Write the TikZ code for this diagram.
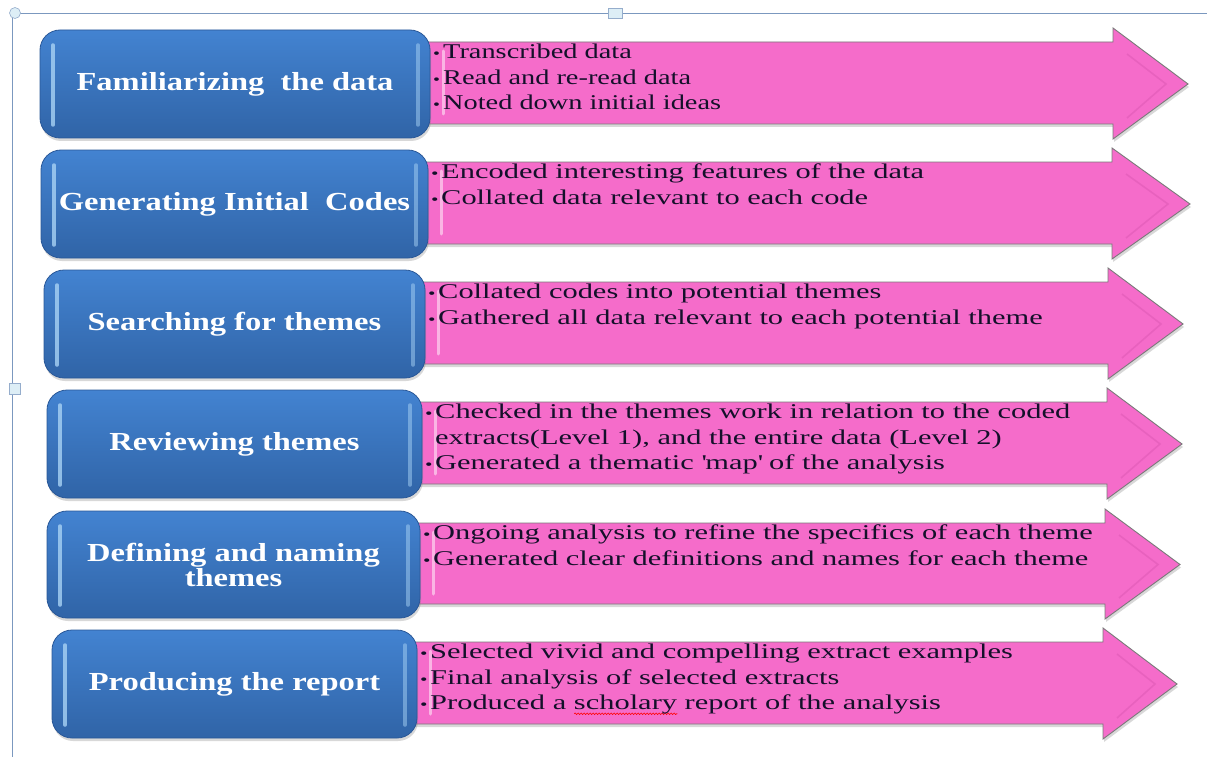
\documentclass[tikz,border=0pt]{standalone}
\usepackage{fontspec}
\setmainfont{Liberation Serif}[FakeStretch=1.45]
\newfontfamily\firstlistfont{Liberation Serif}[FakeStretch=1.35]
\newfontfamily\titlefont{Liberation Serif}[FakeStretch=1.25]
\usetikzlibrary{shadows,decorations.pathmorphing}

\definecolor{boxtop}{HTML}{4383D1}
\definecolor{boxbot}{HTML}{3064A7}
\definecolor{boxrim}{HTML}{2A5898}
\definecolor{gloss}{HTML}{A8D2F4}
\definecolor{pinkfill}{HTML}{F56CCA}
\definecolor{pinkdark}{HTML}{D651AE}
\definecolor{pinkedge}{HTML}{7A7A7A}
\definecolor{framecol}{HTML}{7B98BF}
\definecolor{handlefill}{HTML}{DDEEF6}
\definecolor{inktext}{HTML}{14102A}

\tikzset{
  stagebox/.style={draw=boxrim, line width=0.8pt, rounded corners=20pt,
    top color=boxtop, bottom color=boxbot, text=white, align=center,
    inner sep=0pt,
    font=\titlefont\bfseries\fontsize{26}{25}\selectfont,
    drop shadow={shadow xshift=1pt, shadow yshift=-3pt, opacity=0.3}},
  arrowshape/.style={draw=pinkedge, line width=0.9pt, fill=pinkfill,
    line join=miter,
    drop shadow={shadow xshift=1pt, shadow yshift=-3pt, opacity=0.3}},
  glossline/.style={gloss, line width=3.5pt, line cap=round, opacity=0.8},
  bevel/.style={white, line width=3pt, line cap=round, opacity=0.5},
  chevron/.style={pinkdark, line width=1.6pt, opacity=0.4},
  itemtext/.style={anchor=north west, inner sep=0pt, align=left,
    text=inktext, font=\fontsize{21}{25.5}\selectfont},
  framerule/.style={framecol, line width=1pt},
  handle/.style={draw=framecol!80, fill=handlefill, line width=0.6pt}
}

% bullet of a list line and the indent of a continued line
\newcommand\itembul{\makebox[10pt][l]{\scalebox{0.7}{\textbullet}}}
\newcommand\itemcont{\hspace*{10pt}}
% spell-check style wavy underline
\newlength\wavelen
\newcommand\redwave[1]{\settowidth\wavelen{#1}%
  \rlap{\tikz[baseline=0pt]\draw[red, line width=0.6pt, decorate,
    decoration={snake, amplitude=0.8pt, segment length=3pt}]
    (0pt,-4pt) -- (\wavelen,-4pt);}#1}

% one stage: #1 name, #2 left, #3 right, #4 top, #5 bottom of the box,
% #6 base of the arrow head, #7 tip of the arrow, #8 title, #9 items
\newcommand\stagerow[9]{%
  \pgfmathsetmacro\rowBT{#4+12}%
  \pgfmathsetmacro\rowBB{#5-14}%
  \pgfmathsetmacro\rowHT{#4-2}%
  \pgfmathsetmacro\rowHB{#5+1}%
  \pgfmathsetmacro\rowCY{(#4+#5)/2}%
  \pgfmathsetmacro\rowAL{#3-25}%
  \pgfmathsetmacro\rowCX{(#2+#3)/2}%
  \pgfmathsetmacro\rowW{#3-#2}%
  \pgfmathsetmacro\rowH{#5-#4}%
  % pink arrow
  \draw[arrowshape] (\rowAL,\rowBT) -- (#6,\rowBT) -- (#6,\rowHT) -- (#7,\rowCY)
     -- (#6,\rowHB) -- (#6,\rowBB) -- (\rowAL,\rowBB) -- cycle;
  \draw[chevron] (#6+14,\rowBT+12) -- (#7-22,\rowCY) -- (#6+14,\rowBB-6);
  \draw[bevel] (#3+13,\rowBT+9) -- (#3+13,\rowBB-10);
  % blue box
  \node[stagebox, minimum width=\rowW pt, minimum height=\rowH pt]
     (#1) at (\rowCX,\rowCY) {#8};
  \draw[glossline] (#2+13,#4+15) -- (#2+13,#5-13);
  \draw[glossline, opacity=0.5] (#3-12,#4+15) -- (#3-12,#5-13);
  % list of steps
  \node[itemtext] (#1-items) at (#3+3,\rowBT+2) {#9};
}

\begin{document}
\begin{tikzpicture}[x=1pt,y=-1pt]
\useasboundingbox (0,0) rectangle (1207,757);
\fill[white] (0,0) rectangle (1207,757);

% frame of the drawing canvas
\draw[framerule] (18,13.5) -- (1207,13.5);
\draw[framerule] (12.5,18) -- (12.5,757);
\draw[handle] (15,13) circle (5.5);
\draw[handle] (608,8) rectangle (622,18);
\draw[handle] (9,383) rectangle (20,394);

\stagerow{s1}{40}{430}{30}{138}{1113}{1188}{Familiarizing\ \ the data}
  {\firstlistfont\itembul Transcribed data\\ \firstlistfont\itembul Read and re-read data\\ \firstlistfont\itembul Noted down initial ideas}
\stagerow{s2}{41}{428}{150}{258}{1112}{1190}{Generating Initial\ \ Codes}
  {\itembul Encoded interesting features of the data\\ \itembul Collated data relevant to each code}
\stagerow{s3}{44}{425}{270}{378}{1108}{1183}{Searching for themes}
  {\itembul Collated codes into potential themes\\ \itembul Gathered all data relevant to each potential theme}
\stagerow{s4}{47}{422}{390}{498}{1107}{1182}{Reviewing themes}
  {\itembul Checked in the themes work in relation to the coded\\ \itemcont extracts(Level 1), and the entire data (Level 2)\\ \itembul Generated a thematic \textquotesingle map\textquotesingle\ of the analysis}
\stagerow{s5}{47}{420}{511}{618}{1105}{1180}{Defining and naming\\themes}
  {\itembul Ongoing analysis to refine the specifics of each theme\\ \itembul Generated clear definitions and names for each theme}
\stagerow{s6}{52}{417}{630}{738}{1103}{1177}{Producing the report}
  {\itembul Selected vivid and compelling extract examples\\ \itembul Final analysis of selected extracts\\ \itembul Produced a \redwave{scholary} report of the analysis}
\end{tikzpicture}
\end{document}
